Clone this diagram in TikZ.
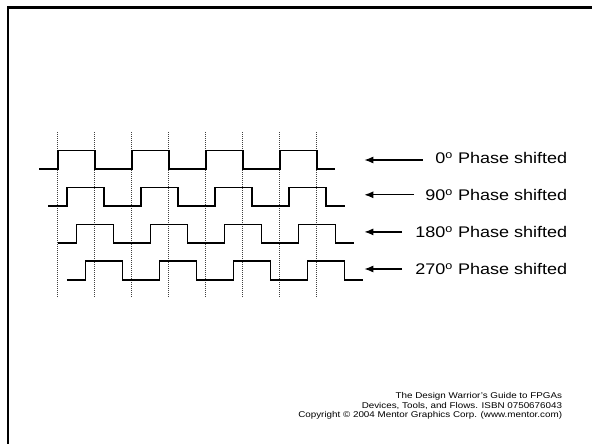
\documentclass[tikz,border=0pt]{standalone}
\usepackage{fontspec}
\setmainfont{Liberation Sans}
\usetikzlibrary{arrows.meta}
\tikzset{
  frameline/.style={line width=2.2pt, line cap=rect, line join=miter},
  wave/.style={line width=1.6pt, line join=miter},
  guide/.style={line width=0.8pt, black!75, dash pattern=on 1.2pt off 0.8pt},
  arr/.style={line width=1.3pt, -{Latex[length=9pt,width=7pt]}},
  lbl/.style={inner sep=0pt, anchor=base east, xscale=1.17, font=\fontsize{15.4}{18}\selectfont},
  foot/.style={inner sep=0pt, anchor=base east, xscale=1.17, font=\fontsize{8.4}{9.7}\selectfont}
}
\newcommand{\dg}{\textsuperscript{o}}
\begin{document}
\begin{tikzpicture}[x=1pt,y=-1pt]
\useasboundingbox (0,0) rectangle (592,444);
% frame (only top and left visible)
\draw[frameline] (8.2,446) -- (8.2,7.5) -- (594,7.5);
% guide lines
\foreach \j in {0,...,7}{
  \draw[guide] (57.7+37*\j,132) -- (57.7+37*\j,297.3);
}
% waveforms
\foreach \i in {0,...,3}{
  \pgfmathsetmacro{\sx}{39+9.3*\i}
  \pgfmathsetmacro{\hy}{150.5+36.9*\i}
  \pgfmathsetmacro{\ly}{\hy+18.6}
  \pgfmathsetmacro{\rx}{57.7+9.3*\i}
  \draw[wave] (\sx,\ly)
    -- (\rx,\ly) -- (\rx,\hy) -- (\rx+37,\hy) -- (\rx+37,\ly)
    -- (\rx+74,\ly) -- (\rx+74,\hy) -- (\rx+111,\hy) -- (\rx+111,\ly)
    -- (\rx+148,\ly) -- (\rx+148,\hy) -- (\rx+185,\hy) -- (\rx+185,\ly)
    -- (\rx+222,\ly) -- (\rx+222,\hy) -- (\rx+259,\hy) -- (\rx+259,\ly)
    -- (\rx+277.7,\ly);
}
% labels
\node[lbl] (l0) at (567.5,163.8) {0\dg{} Phase shifted};
\node[lbl] (l1) at (567.5,200.5) {90\dg{} Phase shifted};
\node[lbl] (l2) at (567.5,237.6) {180\dg{} Phase shifted};
\node[lbl] (l3) at (567.5,274.8) {270\dg{} Phase shifted};
% arrow tips
\coordinate (t0) at (364.3,160);
\coordinate (t1) at (364.3,194.8);
\coordinate (t2) at (364.3,231.9);
\coordinate (t3) at (364.3,269);
\draw[arr] (l0.west |- t0) ++(-12.5,0) -- (t0);
\draw[arr] (l1.west |- t1) ++(-11,0) -- (t1);
\draw[arr] (l2.west |- t2) ++(-13,0) -- (t2);
\draw[arr] (l3.west |- t3) ++(-13,0) -- (t3);
% footer
\node[foot] (f1) at (562.3,398.3) {The Design Warrior's Guide to FPGAs};
\node[foot] (f2) at (562.3,408) {Devices, Tools, and Flows. ISBN 0750676043};
\node[foot] (f3) at (562.3,417.7) {Copyright © 2004 Mentor Graphics Corp. (www.mentor.com)};
\end{tikzpicture}
\end{document}
